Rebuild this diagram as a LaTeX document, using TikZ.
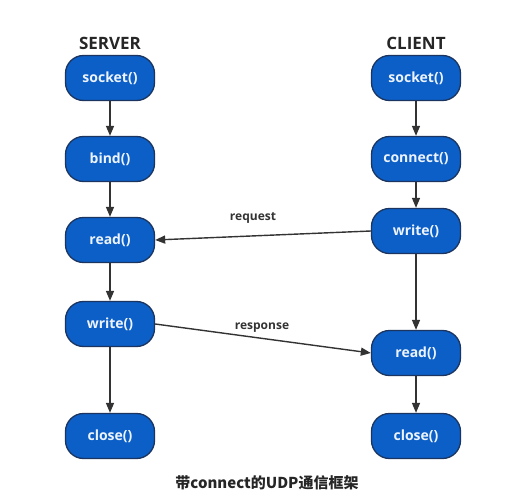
\documentclass[tikz,border=0pt]{standalone}
\usepackage{fontspec}
\setmainfont{Open Sans}
\newfontfamily\cjkfont{Noto Sans CJK SC}
\usetikzlibrary{arrows.meta}
\definecolor{boxfill}{HTML}{0B5FC6}
\definecolor{boxline}{HTML}{1B3560}
\definecolor{boxtext}{HTML}{EEF4FF}
\definecolor{arrowcol}{HTML}{333333}
\tikzset{
  fn/.style={draw=boxline, line width=1.3pt, fill=boxfill, rounded corners=18pt,
    minimum width=89pt, minimum height=45pt, text=boxtext,
    font=\fontsize{14}{16}\selectfont\bfseries, inner sep=0pt},
  title/.style={font=\fontsize{17}{19}\selectfont\bfseries, text=black!85},
  flow/.style={draw=arrowcol, line width=1.4pt, -{Triangle[length=10pt,width=8pt]}},
  lbl/.style={font=\fontsize{12}{14}\selectfont\bfseries, text=black!80},
}
\begin{document}
\begin{tikzpicture}[x=1pt,y=-1pt]
\useasboundingbox (0,0) rectangle (522,500);
\node[title] (st) at (110,43) {SERVER};
\node[title] (ct) at (416,43) {CLIENT};
\node[fn] (s1) at (110,78) {socket()};
\node[fn] (s2) at (110,159) {bind()};
\node[fn] (s3) at (110,240) {read()};
\node[fn] (s4) at (110,324) {write()};
\node[fn] (s5) at (110,436) {close()};
\node[fn] (c1) at (416,78) {socket()};
\node[fn] (c2) at (416,159) {connect()};
\node[fn] (c3) at (416,231) {write()};
\node[fn] (c4) at (416,353) {read()};
\node[fn] (c5) at (416,436) {close()};
\draw[flow] (s1) -- (s2);
\draw[flow] (s2) -- (s3);
\draw[flow] (s3) -- (s4);
\draw[flow] (s4) -- (s5);
\draw[flow] (c1) -- (c2);
\draw[flow] (c2) -- (c3);
\draw[flow] (c3) -- (c4);
\draw[flow] (c4) -- (c5);
\draw[flow] (c3.west) -- (s3.east);
\draw[flow] (s4.east) -- (c4.west);
\node[lbl] (rq) at (253,218) {request};
\node[lbl] (rs) at (262,328) {response};
\node[font=\cjkfont\fontsize{15}{17}\selectfont\bfseries, text=black!85] (cap) at (267,483) {带connect的UDP通信框架};
\end{tikzpicture}
\end{document}
